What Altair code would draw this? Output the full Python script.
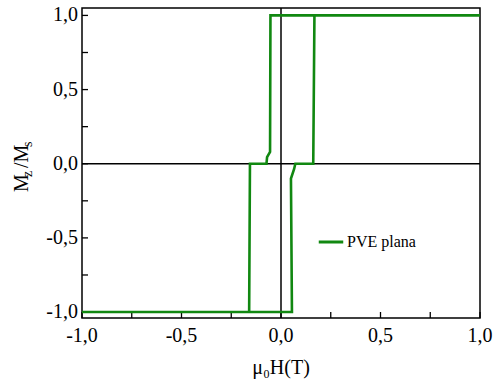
import altair as alt
import pandas as pd

# descending branch (field sweeping from +1 T to -1 T)
h_desc = [1.0, -0.053, -0.055, -0.070, -0.073, -0.156, -0.160, -1.0]
m_desc = [1.0, 1.0, 0.08, 0.045, 0.0, 0.0, -1.0, -1.0]
# ascending branch (field sweeping from -1 T to +1 T)
h_asc = [-1.0, 0.055, 0.050, 0.066, 0.072, 0.162, 0.168, 1.0]
m_asc = [-1.0, -1.0, -0.10, -0.035, 0.0, 0.0, 1.0, 1.0]
series_name = "PVE plana"
tick_values = [-1.0, -0.75, -0.5, -0.25, 0.0, 0.25, 0.5, 0.75, 1.0]
label_values = [-1.0, -0.5, 0.0, 0.5, 1.0]

H = h_desc + h_asc
M = m_desc + m_asc
df = pd.DataFrame({"H": H, "M": M, "order": list(range(len(H))), "serie": series_name})
ticks = pd.DataFrame({"t": tick_values})
labels = pd.DataFrame({"v": label_values})

W, Ht = 398, 310
FONT = "Liberation Serif"
xs = alt.Scale(domain=[-1.0, 1.0], nice=False, zero=False)
ys = alt.Scale(domain=[-1.04, 1.05], nice=False, zero=False)

lab = "(datum.v < 0 ? '-' : '') + replace(format(abs(datum.v), '.1f'), '.', ',')"

line = alt.Chart(df).mark_line(strokeWidth=2.6, interpolate="linear").encode(
    x=alt.X("H:Q", scale=xs, axis=None),
    y=alt.Y("M:Q", scale=ys, axis=None),
    order="order:Q",
    color=alt.Color("serie:N", scale=alt.Scale(range=["#118811"]),
                    legend=alt.Legend(title=None, orient="none", legendX=235, legendY=220,
                                      symbolType="stroke", symbolSize=600, symbolStrokeWidth=3,
                                      labelOffset=2)),
)

zero_v = alt.Chart(pd.DataFrame({"v": [0.0]})).mark_rule(color="black", strokeWidth=1.5).encode(
    x=alt.X("v:Q", scale=xs, axis=None))
zero_h = alt.Chart(pd.DataFrame({"v": [0.0]})).mark_rule(color="black", strokeWidth=1.5).encode(
    y=alt.Y("v:Q", scale=ys, axis=None))

xticks = alt.Chart(ticks).mark_rule(color="black", strokeWidth=1.3).encode(
    x=alt.X("t:Q", scale=xs, axis=None), y=alt.value(Ht), y2=alt.value(Ht - 6))
yticks = alt.Chart(ticks).mark_rule(color="black", strokeWidth=1.3).encode(
    y=alt.Y("t:Q", scale=ys, axis=None), x=alt.value(0), x2=alt.value(6))

# tick labels (decimal comma), drawn through the scales
xlabels = alt.Chart(labels).transform_calculate(txt=lab).mark_text(
    font=FONT, fontSize=20, color="black", align="center", baseline="alphabetic").encode(
    x=alt.X("v:Q", scale=xs, axis=None), y=alt.value(Ht + 24), text="txt:N")
ylabels = alt.Chart(labels).transform_calculate(txt=lab).mark_text(
    font=FONT, fontSize=20, color="black", align="right", baseline="middle").encode(
    y=alt.Y("v:Q", scale=ys, axis=None), x=alt.value(-4), text="txt:N")

# x title
xt = pd.DataFrame({"txt": ["μ₀H(T)"], "px": [W / 2], "py": [Ht + 56]})
xtitle = alt.Chart(xt).mark_text(
    font=FONT, fontSize=20, color="black", align="center", baseline="alphabetic").encode(
    x=alt.X("px:Q", scale=None), y=alt.Y("py:Q", scale=None), text="txt:N")

# y title "M_z/M_s" with subscripts, composed of text pieces
ttl = pd.DataFrame({
    "txt": ["M", "z", "/M", "s"],
    "px": [-54, -50, -54, -50],
    "py": [184, 169, 160, 139],
    "fs": [20, 14, 20, 14],
})
ytitle = alt.Chart(ttl).mark_text(angle=270, align="left", baseline="alphabetic", font=FONT,
                                  color="black").encode(
    x=alt.X("px:Q", scale=None), y=alt.Y("py:Q", scale=None), text="txt:N",
    size=alt.Size("fs:Q", scale=None, legend=None))

chart = alt.layer(zero_v, zero_h, xticks, yticks, line, xlabels, ylabels, xtitle, ytitle).resolve_scale(
    size="independent").properties(
    width=W, height=Ht,
    autosize=alt.AutoSizeParams(type="none"),
    padding={"left": 82, "top": 8, "right": 14, "bottom": 63},
).configure(font=FONT, background="white").configure_view(
    stroke="black", strokeWidth=1.5).configure_legend(
    labelFont=FONT, labelFontSize=16, labelColor="black")

chart.save("out.html", embed_options={"renderer": "svg", "actions": False})
